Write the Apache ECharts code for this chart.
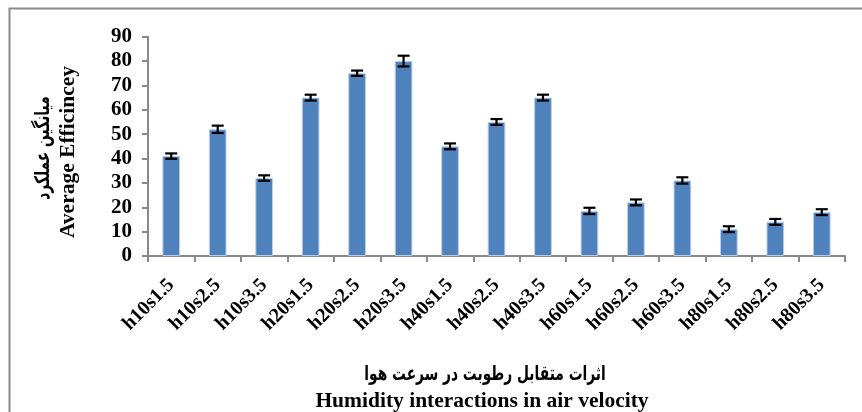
<!DOCTYPE html>
<html>
<head>
<meta charset="utf-8">
<script src="https://cdn.jsdelivr.net/npm/echarts@6/dist/echarts.min.js"></script>
<style>
  html, body { margin: 0; padding: 0; background: #fff; }
  #chart { width: 862px; height: 412px; }
</style>
</head>
<body>
<div id="chart"></div>
<script>
// Treatment combinations: humidity level (h) x air velocity (s)
const categories = ['h10s1.5', 'h10s2.5', 'h10s3.5', 'h20s1.5', 'h20s2.5', 'h20s3.5',
  'h40s1.5', 'h40s2.5', 'h40s3.5', 'h60s1.5', 'h60s2.5', 'h60s3.5',
  'h80s1.5', 'h80s2.5', 'h80s3.5'];
// Mean efficiency per treatment
const meanValues = [41, 52, 32, 65, 75, 80, 45, 55, 65, 18.5, 22, 31, 11, 14, 18];
// Half-width of the error bar for each mean
const errorValues = [1.1, 1.5, 1.1, 1.2, 1.1, 2.2, 1.2, 1.2, 1.2, 1.3, 1.2, 1.3, 1.2, 1.2, 1.2];
// Value axis ticks
const yTicks = [0, 10, 20, 30, 40, 50, 60, 70, 80, 90];

const yTitleFa = 'میانگین عملکرد';
const yTitleEn = 'Average Efficincey';
const xTitleFa = 'اثرات متقابل رطوبت در سرعت هوا';
const xTitleEn = 'Humidity interactions in air velocity';

const serif = '"Liberation Serif", "Times New Roman", serif';
const arabicFont = '"DejaVu Sans", sans-serif';

const chart = echarts.init(document.getElementById('chart'), null, { renderer: 'canvas' });

const errorData = categories.map((c, i) => [i, meanValues[i] - errorValues[i], meanValues[i] + errorValues[i]]);

chart.setOption({
  backgroundColor: '#fff',
  animation: false,
  grid: { left: 148, right: 17, top: 36.7, bottom: 156, containLabel: false },
  xAxis: {
    type: 'category',
    data: categories,
    axisLine: { lineStyle: { color: '#888', width: 2 } },
    axisTick: { show: true, length: 6, lineStyle: { color: '#888', width: 2 } },
    axisLabel: {
      rotate: 45,
      margin: 26,
      color: '#000',
      fontFamily: serif,
      fontWeight: 'bold',
      fontSize: 20,
      interval: 0
    }
  },
  yAxis: {
    type: 'value',
    min: yTicks[0],
    max: yTicks[yTicks.length - 1],
    interval: yTicks[1] - yTicks[0],
    splitLine: { show: false },
    axisLine: { show: true, lineStyle: { color: '#888', width: 2 } },
    axisTick: { show: true, length: 6, lineStyle: { color: '#888', width: 2 } },
    axisLabel: {
      margin: 16,
      color: '#000',
      fontFamily: serif,
      fontWeight: 'bold',
      fontSize: 21
    }
  },
  graphic: [
    {
      type: 'rect',
      shape: { x: 9.5, y: 8.5, width: 900, height: 500 },
      style: { fill: 'none', stroke: '#8a8a8a', lineWidth: 2 },
      silent: true,
      z: -1
    },
    {
      type: 'text',
      x: 44, y: 148, rotation: Math.PI / 2, scaleX: 0.92, scaleY: 1.35,
      style: {
        text: yTitleFa, fill: '#000', font: 'bold 15px ' + arabicFont,
        align: 'center', verticalAlign: 'middle'
      }
    },
    {
      type: 'text',
      x: 68, y: 152, rotation: Math.PI / 2,
      style: {
        text: yTitleEn, fill: '#000', font: 'bold 21.5px ' + serif,
        align: 'center', verticalAlign: 'middle'
      }
    },
    {
      type: 'text',
      x: 485, y: 375, scaleX: 0.92, scaleY: 1.35,
      style: {
        text: xTitleFa, fill: '#000', font: 'bold 15px ' + arabicFont,
        align: 'center', verticalAlign: 'middle'
      }
    },
    {
      type: 'text',
      x: 482, y: 401,
      style: {
        text: xTitleEn, fill: '#000', font: 'bold 21.5px ' + serif,
        align: 'center', verticalAlign: 'middle'
      }
    }
  ],
  series: [
    {
      type: 'bar',
      data: meanValues,
      barWidth: '38%',
      itemStyle: { color: '#4F81BD', borderColor: '#b9cde6', borderWidth: 1 },
      z: 2
    },
    {
      type: 'custom',
      data: errorData,
      z: 3,
      renderItem: function (params, api) {
        const x = api.value(0);
        const lo = api.coord([x, api.value(1)]);
        const hi = api.coord([x, api.value(2)]);
        const cap = 6;
        const style = { stroke: '#000', lineWidth: 2.2 };
        return {
          type: 'group',
          children: [
            { type: 'line', shape: { x1: hi[0], y1: hi[1], x2: lo[0], y2: lo[1] }, style: style },
            { type: 'line', shape: { x1: hi[0] - cap, y1: hi[1], x2: hi[0] + cap, y2: hi[1] }, style: style },
            { type: 'line', shape: { x1: lo[0] - cap, y1: lo[1], x2: lo[0] + cap, y2: lo[1] }, style: style }
          ]
        };
      }
    }
  ]
});
</script>
</body>
</html>
